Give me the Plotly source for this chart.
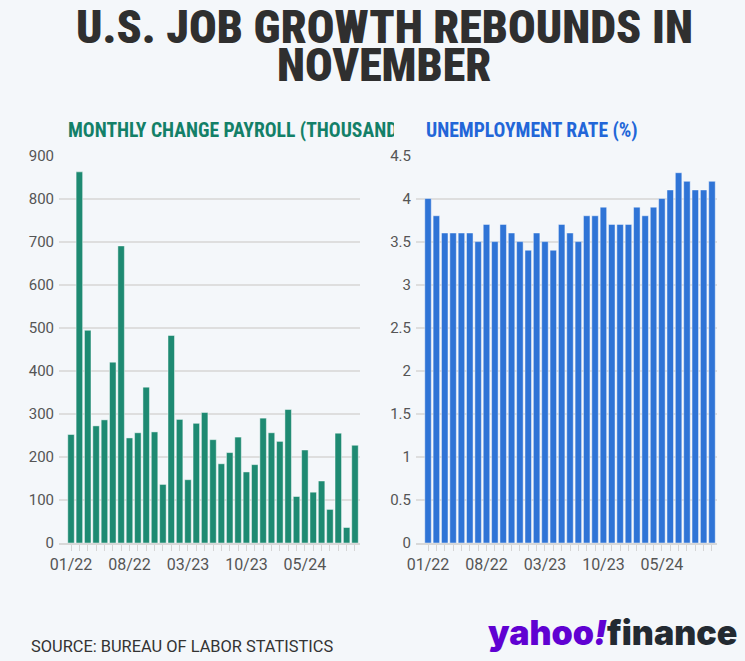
import plotly.graph_objects as go
from plotly.subplots import make_subplots

months = ["01/22","02/22","03/22","04/22","05/22","06/22","07/22","08/22","09/22","10/22","11/22","12/22",
          "01/23","02/23","03/23","04/23","05/23","06/23","07/23","08/23","09/23","10/23","11/23","12/23",
          "01/24","02/24","03/24","04/24","05/24","06/24","07/24","08/24","09/24","10/24","11/24"]
payroll = [252, 862, 494, 272, 286, 420, 690, 244, 256, 362, 258, 136,
           482, 287, 147, 278, 303, 240, 184, 210, 246, 165, 182, 290,
           256, 236, 310, 108, 216, 118, 144, 78, 255, 36, 227]
unemployment = [4.0, 3.8, 3.6, 3.6, 3.6, 3.6, 3.5, 3.7, 3.5, 3.7, 3.6, 3.5,
                3.4, 3.6, 3.5, 3.4, 3.7, 3.6, 3.5, 3.8, 3.8, 3.9, 3.7, 3.7,
                3.7, 3.9, 3.8, 3.9, 4.0, 4.1, 4.3, 4.2, 4.1, 4.1, 4.2]
tick_labels = ["01/22", "08/22", "03/23", "10/23", "05/24"]
title_lines = ["U.S. JOB GROWTH REBOUNDS IN", "NOVEMBER"]

BG = "#f4f7fa"
GREEN = "#1e8a72"
BLUE = "#2f74d6"
TXT = "#555555"
COND = "Roboto Condensed, Roboto, sans-serif"

idx = list(range(len(months)))
ticktext = [m if m in tick_labels else "" for m in months]

fig = make_subplots(rows=1, cols=2, horizontal_spacing=0.08)
fig.add_trace(go.Bar(x=idx, y=payroll, marker=dict(color=GREEN, line=dict(color="rgba(255,255,255,0.45)", width=1)),
                     hovertext=months, showlegend=False), row=1, col=1)
fig.add_trace(go.Bar(x=idx, y=unemployment, marker=dict(color=BLUE, line=dict(color="rgba(255,255,255,0.45)", width=1)),
                     hovertext=months, showlegend=False), row=1, col=2)

xcommon = dict(range=[-1.44, 34.6], tickmode="array", tickvals=idx, ticktext=ticktext,
               ticks="outside", ticklen=6, tickcolor="#d5d5d5", tickwidth=1,
               showgrid=False, zeroline=False, showline=True, linecolor="#d8d8d8", linewidth=2,
               tickfont=dict(family="Roboto, sans-serif", size=16, color=TXT), tickangle=0,
               automargin=False)
fig.update_xaxes(**xcommon)
fig.update_xaxes(domain=[59/745, 360/745], row=1, col=1)
fig.update_xaxes(domain=[416/745, 717/745], row=1, col=2)

ycommon = dict(showgrid=True, gridcolor="#dedede", gridwidth=2, zeroline=False,
               tickfont=dict(family="Roboto, sans-serif", size=15, color=TXT), ticks="",
               ticklabelstandoff=4, automargin=False)
fig.update_yaxes(**ycommon)
fig.update_yaxes(range=[0, 900], dtick=100, row=1, col=1)
fig.update_yaxes(range=[0, 4.5], dtick=0.5, row=1, col=2)
fig.update_yaxes(domain=[1 - 543/661, 1 - 155.5/661])

fig.update_layout(
    width=745, height=661,
    paper_bgcolor=BG, plot_bgcolor=BG,
    margin=dict(l=0, r=0, t=0, b=0),
    bargap=0.22,
)

for line, yc in zip(title_lines, [27, 65]):
    fig.add_annotation(text=line, xref="paper", yref="paper",
                       x=384/745, y=1 - yc/661, xanchor="center", yanchor="middle", showarrow=False,
                       font=dict(family=COND, size=46, color="#2f2f2f", weight=900))
fig.add_annotation(text="MONTHLY CHANGE PAYROLL (THOUSANDS)", xref="paper", yref="paper",
                   x=66/745, y=1 - 131/661, xanchor="left", yanchor="middle", showarrow=False,
                   width=326, align="left",
                   font=dict(family=COND, size=19.6, color="#138068", weight="bold"))
fig.add_annotation(text="UNEMPLOYMENT RATE (%)", xref="paper", yref="paper",
                   x=424/745, y=1 - 131/661, xanchor="left", yanchor="middle", showarrow=False,
                   font=dict(family=COND, size=19.6, color="#2266d8", weight="bold"))
fig.add_annotation(text="SOURCE: BUREAU OF LABOR STATISTICS", xref="paper", yref="paper",
                   x=29/745, y=1 - 646/661, xanchor="left", yanchor="middle", showarrow=False,
                   font=dict(family="Roboto, sans-serif", size=16.4, color="#333333"))
fig.add_annotation(text="<span style='color:#6001d2'>yahoo<i>!</i></span><span style='color:#232a31'>finance</span>",
                   xref="paper", yref="paper",
                   x=739/745, y=1 - 632/661, xanchor="right", yanchor="middle", showarrow=False,
                   font=dict(family="Inter, Roboto, sans-serif", size=34, weight=900))

fig.write_html("out.html", config={"displayModeBar": False},
               post_script="document.body.style.margin='0';")
